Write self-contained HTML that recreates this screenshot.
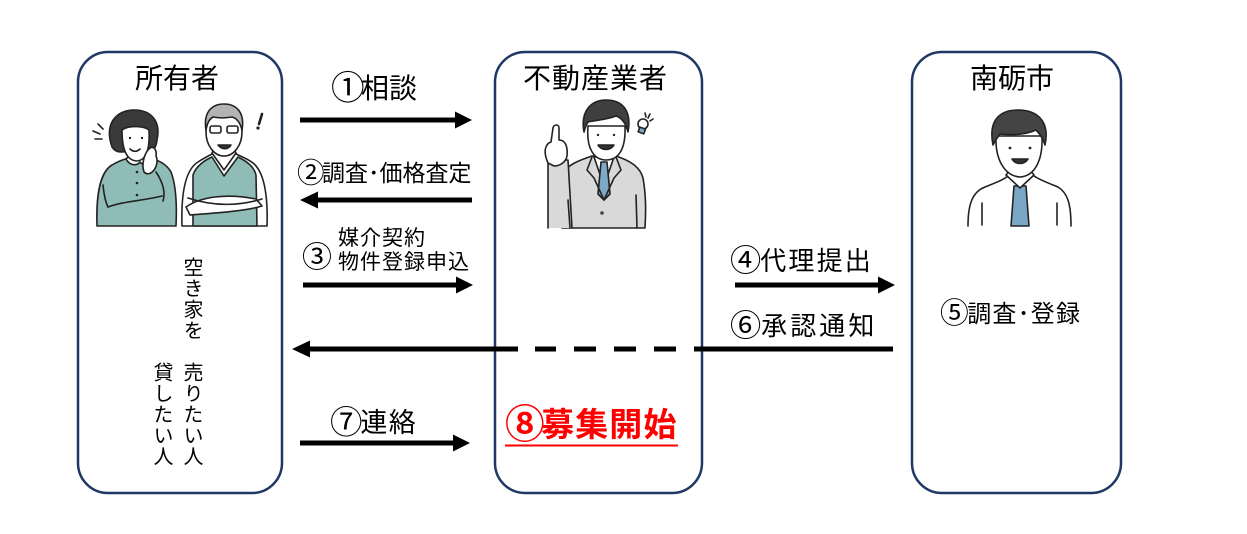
<!DOCTYPE html>
<html><head><meta charset="utf-8">
<style>
html,body{margin:0;padding:0;background:#fff;}
body{width:1247px;height:534px;position:relative;overflow:hidden;font-family:"Liberation Sans","Noto Sans CJK JP",sans-serif;color:#000;}
.t{position:absolute;white-space:nowrap;line-height:1;}
.c{display:inline-block;transform-origin:0 55%;transform:scale(1.2);margin-right:2px;}
.v{position:absolute;writing-mode:vertical-rl;line-height:1;font-size:20px;letter-spacing:1px;white-space:nowrap;}
svg{position:absolute;left:0;top:0;}
</style></head><body>
<svg width="1247" height="534" viewBox="0 0 1247 534">
  <rect x="78" y="52" width="204" height="441" rx="30" fill="none" stroke="#1f3864" stroke-width="2.5"/>
  <rect x="495" y="52" width="207" height="441" rx="30" fill="none" stroke="#1f3864" stroke-width="2.5"/>
  <rect x="912" y="52" width="209" height="441" rx="30" fill="none" stroke="#1f3864" stroke-width="2.5"/>

  <g fill="#000" stroke="none">
    <rect x="300" y="117.5" width="157" height="5"/>
    <polygon points="455,111.5 472,120 455,128.5"/>
    <rect x="316" y="197.5" width="156" height="5"/>
    <polygon points="318,191.5 300,200 318,208.5"/>
    <rect x="303" y="282.5" width="155" height="5"/>
    <polygon points="456,276.5 473,285 456,293.5"/>
    <rect x="735" y="282.5" width="145" height="5"/>
    <polygon points="878,276.5 895,285 878,293.5"/>
    <rect x="694" y="346.5" width="199" height="5"/>
    <rect x="654" y="346.5" width="22" height="5"/>
    <rect x="614" y="346.5" width="22" height="5"/>
    <rect x="574" y="346.5" width="22" height="5"/>
    <rect x="535" y="346.5" width="21" height="5"/>
    <rect x="308" y="346.5" width="210" height="5"/>
    <polygon points="310,340.5 292,349 310,357.5"/>
    <rect x="300" y="440.5" width="155" height="5"/>
    <polygon points="453,434.5 470,443 453,451.5"/>
  </g>

  <rect x="505" y="444.5" width="173" height="2" fill="#ff0000"/>

  <!-- Woman -->
  <g stroke="#222" stroke-width="1.6" stroke-linejoin="round" stroke-linecap="round">
    <path d="M97,226 C96,196 100,172 112,165 C120,160 128,158 134,157 L146,157 C156,159 166,163 171,172 C176,185 177,205 176,226 Z" fill="#8fbcb7"/>
    <path d="M126,159 C130,166 137,166 140,162 C143,166 149,165 150,158 L146,153 L132,153 Z" fill="#fff"/>
    <path d="M112,147 C104,124 116,110 134,110 C152,110 161,122 157,140 C156,150 150,154 147,151 L121,152 C117,152 114,150 112,147 Z" fill="#3a3a3a"/>
    <path d="M122,130 C122,150 127,160 136,161 C146,161 150,150 149,130 C144,126 128,125 122,130 Z" fill="#fff"/>
    <path d="M144,172 C141,163 145,152 150,148 C154,146 157,150 156,156 C158,160 157,166 154,170 C151,174 147,175 144,172 Z" fill="#fff"/>
    <path d="M108,207 C124,201 142,201 162,196" fill="none"/>
    <path d="M156,172 C162,181 166,191 163,201" fill="none"/>
    <path d="M103,185 C104,195 106,203 108,207" fill="none"/>
    <path d="M130,149 C133,152 137,152 140,149" fill="none"/>
    <path d="M93,131 L100,134 M95,139 L102,139 M98,124 L103,129" fill="none"/>
  </g>
  <g fill="#222">
    <circle cx="137" cy="172" r="1.3"/><circle cx="137" cy="183" r="1.3"/><circle cx="137" cy="195" r="1.3"/>
    <circle cx="130" cy="138" r="1.2"/><circle cx="142" cy="138" r="1.2"/>
  </g>

  <!-- Man (left box) -->
  <g stroke="#222" stroke-width="1.6" stroke-linejoin="round" stroke-linecap="round">
    <path d="M182,226 C181,195 185,170 198,162 C204,158 210,155 214,153 L234,153 C240,156 248,159 253,163 C264,172 268,195 267,226 Z" fill="#fff"/>
    <path d="M193,226 L193,175 C196,166 205,160 212,157 L224,176 L238,157 C246,161 254,166 256,175 L257,226 Z" fill="#8fbcb7"/>
    <path d="M212,153 L224,170 L236,153 L233,147 L215,147 Z" fill="#fff"/>
    <ellipse cx="224" cy="132" rx="18" ry="24" fill="#fff"/>
    <path d="M206,130 C203,112 212,104 224,104 C237,104 245,113 242,130 C240,122 236,118 232,117 C226,118 218,118 213,117 C209,119 207,124 206,130 Z" fill="#b3b3b3"/>
    <rect x="210" y="126" width="11" height="7" rx="2" fill="none"/>
    <rect x="227" y="126" width="11" height="7" rx="2" fill="none"/>
    <path d="M218,145 C222,150 228,150 231,145 Z" fill="#333"/>
    <path d="M186,207 C200,197 226,193 256,199 L262,206 C246,211 216,213 190,215 Z" fill="#fff"/>
    <path d="M188,198 C206,204 232,208 262,199" fill="none"/>
    <path d="M262,114 L259,124" fill="none" stroke-width="2.6"/>
  </g>
  <circle cx="258" cy="128" r="1.6" fill="#222"/>

  <!-- Middle man -->
  <g stroke="#222" stroke-width="1.6" stroke-linejoin="round" stroke-linecap="round">
    <path d="M562,228 L562,175 C566,165 580,160 592,156 L616,156 C628,160 640,166 643,178 C646,195 646,210 645,228 Z" fill="#d9d9d9"/>
    <path d="M548,228 L548,160 L568,160 L572,228" fill="#d9d9d9"/>
    <path d="M548,163 C543,152 545,144 551,142 L553,128 C554,124 559,124 559,128 L559,140 C565,140 568,146 567,156 C566,162 560,166 554,166 Z" fill="#fff"/>
    <path d="M594,157 L604,186 L614,157 Z" fill="#fff"/>
    <path d="M601,162 L607,162 L610,194 L604,200 L598,194 Z" fill="#7fa9c9"/>
    <path d="M592,157 L587,170 L594,178 L604,200 M616,157 L621,170 L614,178 L604,200" fill="none"/>
    <path d="M588,126 C586,150 595,160 606,160 C618,160 626,150 625,126 Z" fill="#fff"/>
    <path d="M584,132 C580,110 592,100 606,100 C622,100 632,110 628,132 C626,124 622,118 616,116 C606,120 596,120 588,122 C586,125 585,128 584,132 Z" fill="#3f3f3f"/>
    <path d="M598,145 C602,151 610,151 614,145 Z" fill="#333"/>
    <circle cx="643" cy="124" r="5" fill="#fff"/>
    <rect x="639" y="128" width="6" height="5" fill="#7fa9c9" transform="rotate(20 642 130)"/>
    <path d="M645,113 L646,117 M650,114 L648,118 M653,119 L650,121" fill="none"/>
    <path d="M568,200 L570,228 M636,195 L637,228" fill="none"/>
  </g>
  <circle cx="602" cy="213" r="1.8" fill="#444"/>
  <circle cx="598" cy="135" r="1.2" fill="#222"/><circle cx="614" cy="135" r="1.2" fill="#222"/>

  <!-- Right man -->
  <g stroke="#222" stroke-width="1.6" stroke-linejoin="round" stroke-linecap="round">
    <path d="M968,226 C968,205 972,192 985,187 C995,183 1003,180 1008,176 L1034,176 C1040,180 1048,183 1058,187 C1068,193 1071,205 1071,226" fill="#fff"/>
    <path d="M1014,186 L1026,186 L1029,226 L1011,226 Z" fill="#7ba7c7"/>
    <path d="M1006,175 L1020,188 L1034,175 L1030,170 L1010,170 Z" fill="#fff"/>
    <path d="M996,136 C995,160 1005,176 1020,177 C1035,176 1043,160 1042,136 Z" fill="#fff"/>
    <path d="M993,145 C988,120 1000,110 1018,110 C1038,110 1050,122 1045,145 C1043,138 1040,134 1036,130 C1025,135 1010,135 1000,134 C997,138 995,141 993,145 Z" fill="#444"/>
    <path d="M1012,159 C1016,165 1024,165 1028,159 Z" fill="#333"/>
    <path d="M982,203 L982,225 M1057,203 L1057,225" fill="none"/>
  </g>
  <circle cx="1010" cy="148" r="1.4" fill="#222"/><circle cx="1030" cy="148" r="1.4" fill="#222"/>
</svg>

<div class="t" style="left:331px;top:75px;font-size:28px;"><span class="c">①</span>相談</div>
<div class="t" style="left:135px;top:65px;font-size:28px;">所有者</div>
<div class="t" style="left:523px;top:65px;font-size:28px;letter-spacing:1px;">不動産業者</div>
<div class="t" style="left:970px;top:65px;font-size:28px;">南砺市</div>

<div class="t" style="left:297px;top:162px;font-size:23px;"><span class="c">②</span>調査･価格査定</div>
<div class="t" style="left:302px;top:246px;font-size:25px;"><span class="c">③</span></div>
<div class="t" style="left:338px;top:228px;font-size:21px;letter-spacing:1px;">媒介契約</div>
<div class="t" style="left:338px;top:252px;font-size:21px;letter-spacing:1px;">物件登録申込</div>
<div class="t" style="left:730px;top:248px;font-size:26px;letter-spacing:2.2px;"><span class="c">④</span>代理提出</div>
<div class="t" style="left:940px;top:303px;font-size:24px;letter-spacing:1.2px;"><span class="c">⑤</span>調査･登録</div>
<div class="t" style="left:730px;top:313px;font-size:26px;letter-spacing:3.1px;"><span class="c">⑥</span>承認通知</div>
<div class="t" style="left:330px;top:410px;font-size:27px;letter-spacing:1.4px;"><span class="c">⑦</span>連絡</div>
<div class="t" style="left:505px;top:408px;font-size:33px;letter-spacing:1.1px;color:#ff0000;font-weight:bold;"><span class="c">⑧</span>募集開始</div>

<div class="v" style="left:181px;top:257px;">空き家を　売りたい人</div>
<div class="v" style="left:151px;top:362px;">貸したい人</div>
</body></html>
